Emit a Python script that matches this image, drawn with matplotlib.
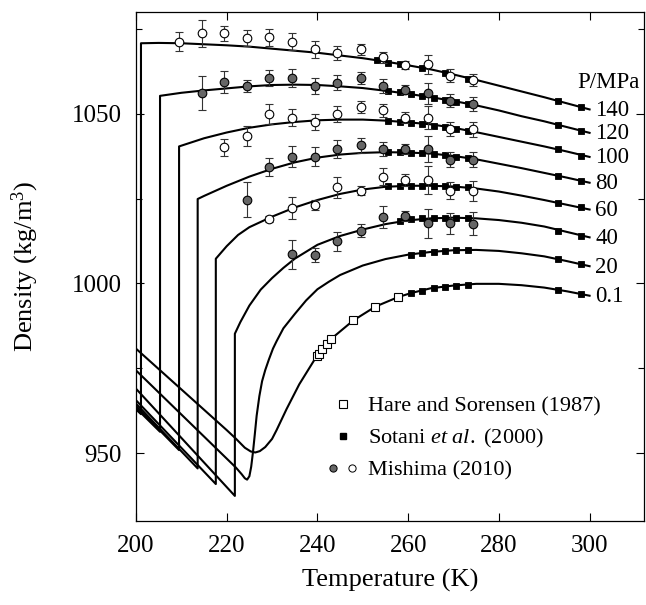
import matplotlib
matplotlib.use("Agg")
import matplotlib.pyplot as plt
from matplotlib.lines import Line2D
from matplotlib.legend_handler import HandlerTuple

plt.rcParams["font.family"] = ["Liberation Serif", "DejaVu Serif"]
plt.rcParams["mathtext.fontset"] = "custom"
plt.rcParams["mathtext.rm"] = "Liberation Serif"
plt.rcParams["mathtext.it"] = "Liberation Serif:italic"

# pressure labels (MPa), top to bottom
pressures = ["140", "120", "100", "80", "60", "40", "20", "0.1"]

# model curves (T in K, density in kg/m3)
t140 = [200, 201.1, 201.1, 205, 210, 215, 220, 225, 230, 235, 240, 245, 250,
        255, 260, 265, 270, 275, 280, 285, 290, 295, 300]
r140 = [962.9, 961.5, 1070.8, 1070.9, 1070.8, 1070.5, 1070.2, 1069.8, 1069.2,
        1068.6, 1068.0, 1067.2, 1066.4, 1065.4, 1064.3, 1063.1, 1061.6, 1060.0,
        1058.3, 1056.6, 1054.9, 1053.1, 1051.3]

t120 = [200, 205.3, 205.3, 210, 215, 220, 225, 230, 235, 240, 245, 250, 255,
        260, 265, 270, 275, 280, 285, 290, 295, 300]
r120 = [963.3, 956.3, 1055.3, 1056.2, 1056.9, 1057.5, 1058.1, 1058.5, 1058.6,
        1058.5, 1058.1, 1057.6, 1056.8, 1055.9, 1054.9, 1053.8, 1052.5, 1051.0,
        1049.3, 1047.8, 1046.1, 1044.4]

t100 = [200, 209.5, 209.5, 215, 220, 225, 230, 235, 240, 245, 250, 255, 260,
        265, 270, 275, 280, 285, 290, 295, 300]
r100 = [963.9, 950.9, 1040.4, 1042.8, 1044.5, 1045.9, 1046.9, 1047.6, 1048.1,
        1048.3, 1048.3, 1048.0, 1047.5, 1046.9, 1045.9, 1044.6, 1043.2, 1041.8,
        1040.4, 1038.9, 1037.3]

t80 = [200, 213.6, 213.6, 215, 220, 225, 230, 235, 240, 245, 250, 255, 260,
       265, 270, 275, 280, 285, 290, 295, 300]
r80 = [964.6, 945.5, 1024.9, 1025.8, 1028.8, 1031.5, 1033.8, 1035.7, 1037.1,
       1038.0, 1038.5, 1038.7, 1038.6, 1038.3, 1037.6, 1036.6, 1035.3, 1034.0,
       1032.6, 1031.2, 1029.7]

t60 = [200, 217.6, 217.6, 220, 222.5, 225, 230, 235, 240, 245, 250, 255, 260,
       265, 270, 275, 280, 285, 290, 295, 300]
r60 = [965.6, 940.9, 1007.3, 1011.0, 1014.3, 1016.6, 1019.7, 1022.4, 1024.6,
       1026.4, 1027.7, 1028.5, 1028.8, 1028.8, 1028.6, 1028.0, 1027.1, 1025.9,
       1024.6, 1023.2, 1021.8]

t40 = [200, 221.8, 221.8, 223, 225, 227.5, 230, 232.5, 235, 240, 245, 250,
       255, 260, 265, 270, 275, 280, 285, 290, 295, 300]
r40 = [969.0, 937.4, 985.2, 988.6, 993.5, 998.2, 1001.6, 1004.6, 1007.3,
       1011.4, 1014.0, 1015.9, 1017.5, 1018.6, 1019.2, 1019.4, 1019.2, 1018.7,
       1017.9, 1016.8, 1015.2, 1013.6]

t20 = [200, 205, 210, 215, 220, 222, 223.3, 224.0, 224.5, 225.0, 225.4, 225.8,
       226.2, 226.6, 227.2, 227.8, 228.5, 229.3, 230.2, 231, 232.5, 235, 237.5,
       240, 242.5, 245, 250, 255, 260, 265, 270, 275, 280, 285, 290, 295, 300]
r20 = [974.4, 967.9, 961.4, 954.9, 948.4, 945.8, 943.8, 942.6, 942.2, 943.2,
       946.0, 950.4, 955.6, 961.0, 966.8, 971.2, 974.5, 977.6, 980.8, 983.0,
       986.8, 991.0, 995.0, 998.3, 1000.5, 1002.5, 1005.3, 1007.2, 1008.5,
       1009.3, 1009.8, 1009.9, 1009.6, 1008.9, 1008.0, 1006.6, 1005.1]

t01 = [200, 205, 210, 215, 220, 222, 224, 225.3, 226.3, 227.3, 228.5, 230, 231,
       233.2, 236, 239.8, 243.5, 247.9, 252.8, 257.8, 260.7, 265, 270, 275,
       280, 285, 290, 295, 300]
r01 = [980.8, 974.8, 968.8, 962.8, 956.8, 954.3, 951.6, 950.5, 950.2, 950.6,
       951.8, 954.2, 956.8, 963.0, 970.3, 978.5, 984.2, 989.1, 993.2, 996.0,
       997.2, 998.6, 999.4, 999.9, 999.9, 999.5, 998.8, 997.7, 996.4]

curves_T = [t140, t120, t100, t80, t60, t40, t20, t01]
curves_r = [r140, r120, r100, r80, r60, r40, r20, r01]

# Sotani et al. (2000)
s140_T = [253.15, 255.65, 258.15, 263.15, 268.15, 273.15, 293.15, 298.15]
s140_r = [1065.8, 1065.1, 1064.6, 1063.5, 1062.0, 1060.4, 1053.8, 1051.9]
s120_T = [255.65, 258.15, 260.65, 263.15, 265.65, 268.15, 270.65, 273.15, 293.15, 298.15]
s120_r = [1056.7, 1056.3, 1055.8, 1055.3, 1054.8, 1054.2, 1053.6, 1052.9, 1046.8, 1045.0]
s100_T = [255.65, 258.15, 260.65, 263.15, 265.65, 268.15, 270.65, 273.15, 293.15, 298.15]
s100_r = [1047.9, 1047.7, 1047.4, 1047.0, 1046.5, 1046.0, 1045.5, 1045.0, 1039.6, 1037.6]
s80_T = [255.65, 258.15, 260.65, 263.15, 265.65, 268.15, 270.65, 273.15, 293.15, 298.15]
s80_r = [1038.7, 1038.7, 1038.6, 1038.4, 1038.1, 1037.8, 1037.4, 1036.9, 1031.8, 1030.3]
s60_T = [255.65, 258.15, 260.65, 263.15, 265.65, 268.15, 270.65, 273.15, 293.15, 298.15]
s60_r = [1028.8, 1028.8, 1028.8, 1028.8, 1028.8, 1028.7, 1028.5, 1028.3, 1023.7, 1022.4]
s40_T = [258.15, 260.65, 263.15, 265.65, 268.15, 270.65, 273.15, 293.15, 298.15]
s40_r = [1018.5, 1019.0, 1019.3, 1019.4, 1019.4, 1019.4, 1019.3, 1015.6, 1014.1]
s20_T = [260.65, 263.15, 265.65, 268.15, 270.65, 273.15, 293.15, 298.15]
s20_r = [1008.4, 1008.9, 1009.3, 1009.6, 1009.8, 1009.9, 1007.1, 1005.6]
s01_T = [260.65, 263.15, 265.65, 268.15, 270.65, 273.15, 293.15, 298.15]
s01_r = [997.3, 997.9, 998.7, 999.1, 999.4, 999.6, 998.1, 996.8]

sotani_T = [s140_T, s120_T, s100_T, s80_T, s60_T, s40_T, s20_T, s01_T]
sotani_r = [s140_r, s120_r, s100_r, s80_r, s60_r, s40_r, s20_r, s01_r]

# Hare and Sorensen (1987), 0.1 MPa
hare_T = [239.8, 240.3, 241.1, 242.1, 243.1, 247.9, 252.8, 257.8]
hare_r = [978.5, 979.3, 980.8, 982.3, 983.7, 989.1, 993.2, 996.0]

# Mishima (2010), with error bars
m140_T = [209.5, 214.5, 219.4, 224.4, 229.4, 234.4, 239.4, 244.3, 249.5, 254.4, 259.4, 264.4, 269.2, 274.3]
m140_r = [1071.3, 1073.7, 1073.7, 1072.4, 1072.6, 1071.3, 1069.0, 1067.9, 1069.0, 1066.7, 1064.5, 1064.6, 1061.2, 1060.0]
m140_e = [2.8, 3.9, 2.1, 2.4, 2.5, 2.5, 2.6, 2.1, 1.6, 1.6, 1.2, 2.8, 1.9, 1.7]
m120_T = [214.5, 219.4, 224.4, 229.4, 234.4, 239.4, 244.3, 249.5, 254.4, 259.4, 264.4, 269.2, 274.3]
m120_r = [1056.1, 1059.3, 1058.2, 1060.5, 1060.5, 1058.2, 1059.2, 1060.5, 1058.2, 1057.1, 1056.1, 1053.8, 1052.9]
m120_e = [5.0, 3.2, 1.9, 2.3, 2.7, 2.4, 2.3, 1.8, 2.1, 1.4, 3.1, 1.9, 2.1]
m100_T = [219.4, 224.4, 229.4, 234.4, 239.4, 244.3, 249.5, 254.4, 259.4, 264.4, 269.2, 274.3]
m100_r = [1040.2, 1043.4, 1049.9, 1048.8, 1047.6, 1049.9, 1052.1, 1051.0, 1048.9, 1048.9, 1045.5, 1045.5]
m100_e = [2.5, 3.0, 2.9, 2.5, 2.3, 2.4, 1.8, 2.0, 1.5, 3.4, 2.0, 2.2]
m80_T = [224.4, 229.4, 234.4, 239.4, 244.3, 249.5, 254.4, 259.4, 264.4, 269.2, 274.3]
m80_r = [1024.7, 1034.3, 1037.4, 1037.4, 1039.6, 1040.7, 1039.6, 1039.6, 1039.6, 1036.5, 1036.5]
m80_e = [5.1, 2.6, 3.1, 2.8, 2.6, 2.2, 2.0, 1.5, 3.8, 2.2, 2.2]
m60_T = [229.4, 234.4, 239.4, 244.3, 249.5, 254.4, 259.4, 264.4, 269.2, 274.3]
m60_r = [1019.0, 1022.3, 1023.2, 1028.3, 1027.4, 1031.5, 1030.5, 1030.5, 1027.4, 1027.2]
m60_e = [0.8, 3.2, 1.5, 3.0, 1.3, 2.5, 1.7, 4.0, 2.4, 2.9]
m40_T = [234.4, 239.4, 244.3, 249.5, 254.4, 259.4, 264.4, 269.2, 274.3]
m40_r = [1008.6, 1008.4, 1012.5, 1015.6, 1019.6, 1019.9, 1017.7, 1017.7, 1017.6]
m40_e = [4.2, 2.0, 2.8, 2.0, 3.2, 1.5, 4.4, 3.0, 3.4]

mishima_T = [m140_T, m120_T, m100_T, m80_T, m60_T, m40_T]
mishima_r = [m140_r, m120_r, m100_r, m80_r, m60_r, m40_r]
mishima_e = [m140_e, m120_e, m100_e, m80_e, m60_e, m40_e]

gray = "#666666"

fig = plt.figure(figsize=(6.46, 6.05), dpi=100)
ax = fig.add_axes([0.2105, 0.1388, 0.7864, 0.8413])

for T, r in zip(curves_T, curves_r):
    ax.plot(T, r, color="k", lw=1.5, zorder=2)

for T, r in zip(sotani_T, sotani_r):
    ax.plot(T, r, "s", ms=4.6, mfc="k", mec="k", mew=0.6, zorder=3)

ax.plot(hare_T, hare_r, "s", ms=5.2, mfc="white", mec="k", mew=0.8, zorder=3)

for i, (T, r, e) in enumerate(zip(mishima_T, mishima_r, mishima_e)):
    fill = "white" if i % 2 == 0 else gray
    ax.errorbar(T, r, yerr=e, fmt="o", ms=6.2, mfc=fill, mec="k", mew=0.8,
                ecolor="#333333", elinewidth=0.8, capsize=3, capthick=0.8,
                zorder=4)

for p, r in zip(pressures, curves_r):
    ax.text(301.3, r[-1] - 0.3, p, ha="left", va="center", fontsize=16.5)
ax.text(297.3, 1059.2, "P/MPa", ha="left", va="center", fontsize=16.5)

ax.set_xlim(200, 312)
ax.set_ylim(930, 1080)
ax.set_xticks(range(200, 301, 20))
ax.set_yticks([950, 1000, 1050])
ax.set_yticks([975, 1025, 1075], minor=True)
ax.tick_params(which="both", direction="in", top=True, right=True,
               labelsize=18, width=0.8, pad=10)
ax.tick_params(which="major", length=6)
ax.tick_params(which="minor", length=4)
for s in ax.spines.values():
    s.set_linewidth(0.9)

ax.set_xlabel("Temperature (K)", fontsize=19, va="center")
ax.xaxis.set_label_coords(0.5, -0.116)
ax.set_ylabel("Density (kg/m$^3$)", fontsize=19, va="center")
ax.yaxis.set_label_coords(-0.2185, 0.5)

h_hare = Line2D([], [], marker="s", ls="none", ms=5.2, mfc="white", mec="k", mew=0.8)
h_sot = Line2D([], [], marker="s", ls="none", ms=4.6, mfc="k", mec="k")
h_m1 = Line2D([], [], marker="o", ls="none", ms=5.2, mfc=gray, mec="k", mew=0.7)
h_m2 = Line2D([], [], marker="o", ls="none", ms=5.2, mfc="white", mec="k", mew=0.7)
ax.legend([h_hare, h_sot, (h_m1, h_m2)],
          ["Hare and Sorensen (1987)", r"Sotani $\mathit{et\ al.}$ (2000)", "Mishima (2010)"],
          handler_map={tuple: HandlerTuple(ndivide=None, pad=0)},
          loc="upper left", bbox_to_anchor=(0.37, 0.245), frameon=False,
          fontsize=16, handlelength=1.7, handletextpad=0.3, borderpad=0,
          borderaxespad=0, labelspacing=0.45)

fig.savefig("out.png", dpi=100)
